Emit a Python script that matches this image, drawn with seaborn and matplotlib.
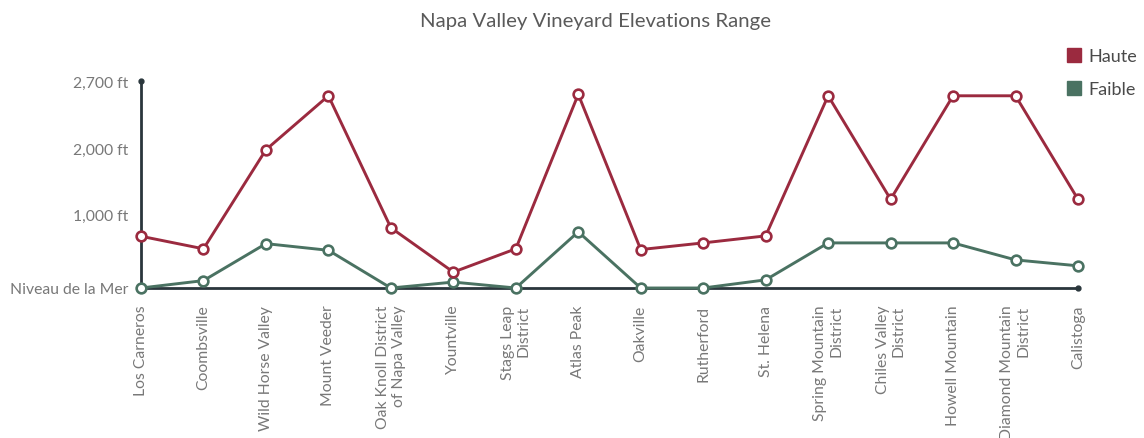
import numpy as np
import pandas as pd
import seaborn as sns
import matplotlib.pyplot as plt
from matplotlib.lines import Line2D

# Napa Valley AVAs, elevation range in feet
regions = ["Los Carneros", "Coombsville", "Wild Horse Valley", "Mount Veeder",
           "Oak Knoll District\nof Napa Valley", "Yountville", "Stags Leap\nDistrict",
           "Atlas Peak", "Oakville", "Rutherford", "St. Helena",
           "Spring Mountain\nDistrict", "Chiles Valley\nDistrict", "Howell Mountain",
           "Diamond Mountain\nDistrict", "Calistoga"]
haute = [700, 530, 1870, 2600, 815, 215, 530, 2620, 520, 610, 705,
         2600, 1200, 2600, 2600, 1200]
faible = [0, 100, 600, 510, 0, 80, 0, 760, 0, 0, 110,
          610, 610, 610, 380, 300]
ytick_values = [0, 1000, 1890, 2800]
ytick_labels = ["Niveau de la Mer", "1,000 ft", "2,000 ft", "2,700 ft"]

red = "#9b2a3f"
green = "#4a7262"
axis_col = "#2a363c"
text_col = "#787878"

df = pd.DataFrame({"pos": range(len(regions)), "region": regions,
                   "Haute": haute, "Faible": faible})

sns.set_style("white")
plt.rcParams["font.family"] = ["Lato", "DejaVu Sans"]

fig = plt.figure(figsize=(11.44, 4.39), dpi=100)
ax = fig.add_axes([141 / 1144, 150 / 439, (1078 - 141) / 1144, (289 - 82) / 439])

for col, c in [("Faible", green), ("Haute", red)]:
    sns.lineplot(data=df, x="pos", y=col, ax=ax, color=c, lw=2.1,
                 marker="o", ms=7, mfc="white", mec=c, mew=1.9,
                 clip_on=False, zorder=4)

ax.set_xlim(0, len(regions) - 1)
ax.set_ylim(0, 2800)
ax.set_xticks(df["pos"])
ax.set_xticklabels(regions, rotation=90, ha="center", va="top",
                   multialignment="right", fontsize=11.3, color=text_col)
ax.set_yticks(ytick_values)
ax.set_yticklabels(ytick_labels, fontsize=11.3, color=text_col)
ax.tick_params(axis="x", length=0, pad=12)
ax.tick_params(axis="y", length=0, pad=9)
ax.set_xlabel("")
ax.set_ylabel("")

for side in ["top", "right"]:
    ax.spines[side].set_visible(False)
for side in ["left", "bottom"]:
    ax.spines[side].set_color(axis_col)
    ax.spines[side].set_linewidth(2.0)
    ax.spines[side].set_zorder(3)
# small dots at the axis ends
ax.plot([0, 1], [1, 0], "o", ms=3.5, color=axis_col, transform=ax.transAxes,
        clip_on=False, zorder=3)

fig.text(596 / 1144, 1 - 22 / 439, "Napa Valley Vineyard Elevations Range",
         ha="center", va="center", fontsize=14.7, color="#5a5a5a")

handles = [Line2D([], [], ls="", marker="s", ms=10, color=red),
           Line2D([], [], ls="", marker="s", ms=10, color=green)]
leg = fig.legend(handles, ["Haute", "Faible"], loc="upper right",
                 bbox_to_anchor=(1.008, 0.925), frameon=False, fontsize=13,
                 handletextpad=0.3, labelspacing=0.95, handlelength=1.0)
for t in leg.get_texts():
    t.set_color("#4a4a4a")

fig.savefig("out.png", dpi=100)
